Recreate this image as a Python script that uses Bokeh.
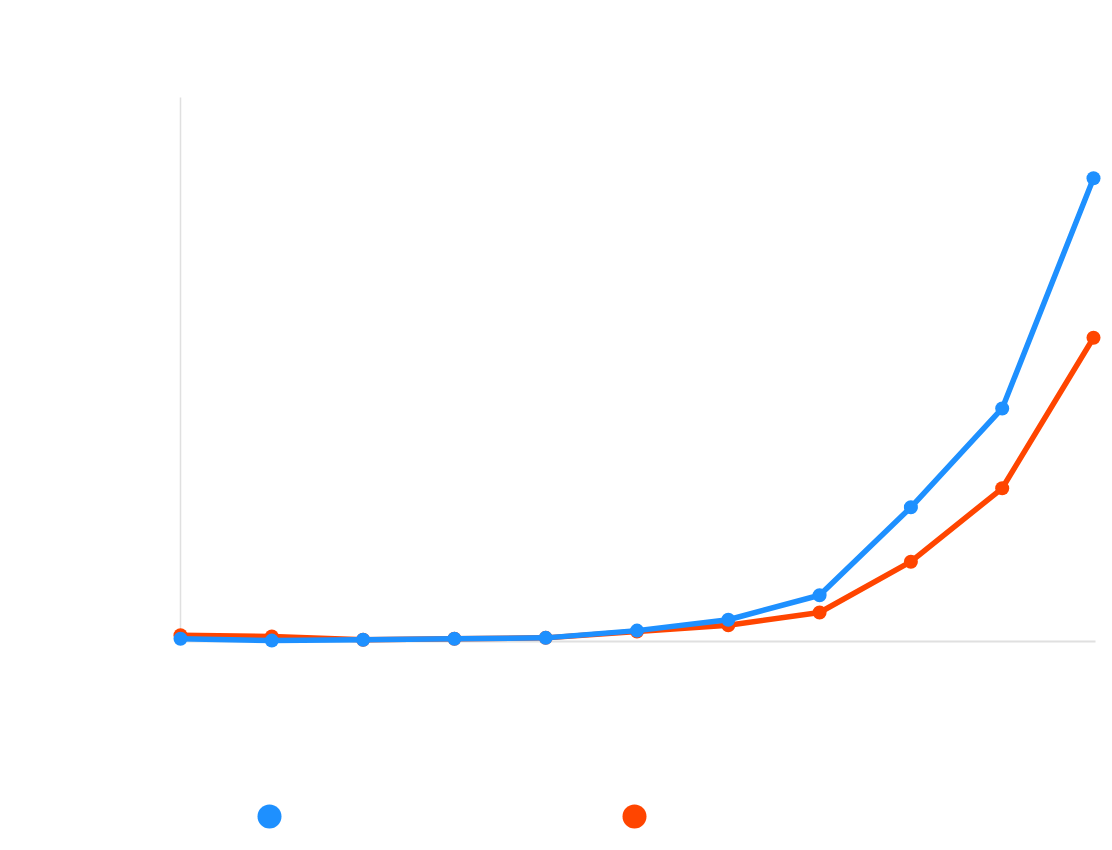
from bokeh.plotting import figure
from bokeh.models import Range1d, Legend, LegendItem
from bokeh.embed import file_html
from bokeh.resources import INLINE

# ---- data ----
steps = list(range(11))
series_a = [3, 1, 2, 3, 4, 12, 24, 51, 148, 257, 511]
series_b = [7, 5.5, 2, 3, 4, 11, 18, 32, 88, 169, 335]
y_max = 600
color_a = "#1e90ff"
color_b = "#ff4500"

W, H = 1112, 850
# pixel targets for data extremes (frame = whole canvas)
px0, px1 = 180, 1093
py0, py1 = 641, 97
sx = (px1 - px0) / (steps[-1] - steps[0])
sy = (py0 - py1) / y_max
x_start = steps[0] - px0 / sx
x_end = steps[-1] + (W - px1) / sx
y_start = -(H - py0) / sy
y_end = y_max + py1 / sy

p = figure(width=W, height=H, output_backend="svg", toolbar_location=None,
           x_range=Range1d(x_start, x_end), y_range=Range1d(y_start, y_end),
           min_border=0)
p.xaxis.visible = False
p.yaxis.visible = False
p.grid.visible = False
p.outline_line_color = None
p.background_fill_color = "white"
p.border_fill_color = "white"

# axis lines
p.segment(x0=[steps[0]], y0=[0], x1=[steps[0]], y1=[y_max], line_color="#e0e0e0", line_width=1.5)
p.segment(x0=[steps[0]], y0=[0], x1=[steps[-1] + 2 / sx], y1=[0], line_color="#e0e0e0", line_width=2)

p.line(steps, series_b, line_color=color_b, line_width=5.5)
sb = p.scatter(steps, series_b, size=14, fill_color=color_b, line_color=None)
p.line(steps, series_a, line_color=color_a, line_width=5.5)
sa = p.scatter(steps, series_a, size=14, fill_color=color_a, line_color=None)

gsize = 60
legend = Legend(items=[LegendItem(label=" ", renderers=[sa]), LegendItem(label=" ", renderers=[sb])],
                orientation="horizontal", glyph_width=gsize, glyph_height=gsize,
                label_width=0, label_standoff=0, spacing=365 - gsize, padding=0, margin=0,
                border_line_color=None, background_fill_alpha=0,
                location=(269 - gsize / 2, H - (816 + gsize / 2)))
p.add_layout(legend, "center")

open("out.html", "w").write(file_html(p, INLINE))
